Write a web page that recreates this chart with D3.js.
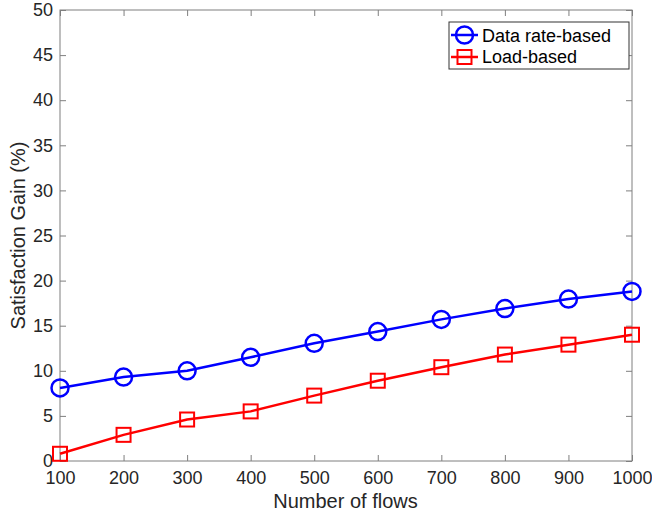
<!DOCTYPE html>
<html><head><meta charset="utf-8">
<script src="https://cdn.jsdelivr.net/npm/d3@7"></script>
<style>body{margin:0;background:#fff}svg{font-family:"Liberation Sans",Arial,sans-serif}</style>
</head><body><svg id="c" width="652" height="514"></svg>
<script>
const flows = [100,200,300,400,500,600,700,800,900,1000];
const dataRate = [8.1,9.3,10.0,11.5,13.05,14.35,15.7,16.9,17.95,18.8];
const loadBased = [0.8,2.9,4.6,5.5,7.25,8.9,10.4,11.8,12.9,14.0];
const xTicks = [100,200,300,400,500,600,700,800,900,1000];
const yTicks = [0,5,10,15,20,25,30,35,40,45,50];

const L=60,R=632,T=10,B=461;
const svg=d3.select("#c");
const x=d3.scaleLinear().domain([100,1000]).range([L,R]);
const y=d3.scaleLinear().domain([0,50]).range([B,T]);
const axCol="#7f7f7f", txtCol="#262626";
const fmt=d3.format("d");

svg.append("rect").attr("x",L).attr("y",T).attr("width",R-L).attr("height",B-T).attr("fill","#fff").attr("stroke",axCol).attr("stroke-width",1);

function styleAxis(g){g.select(".domain").remove();g.selectAll(".tick line").attr("stroke",axCol);g.selectAll("text").attr("fill",txtCol).style("font-size","18px").style("font-family","Liberation Sans, Arial, sans-serif");}
svg.append("g").attr("transform",`translate(0,${B})`).call(d3.axisBottom(x).tickValues(xTicks).tickFormat(fmt).tickSizeInner(-6).tickSizeOuter(0).tickPadding(10)).call(styleAxis);
svg.append("g").attr("transform",`translate(0,${T})`).call(d3.axisTop(x).tickValues(xTicks).tickSizeInner(-6).tickSizeOuter(0).tickFormat("")).call(styleAxis);
svg.append("g").attr("transform",`translate(${L},0)`).call(d3.axisLeft(y).tickValues(yTicks).tickFormat(fmt).tickSizeInner(-6).tickSizeOuter(0).tickPadding(7)).call(styleAxis);
svg.append("g").attr("transform",`translate(${R},0)`).call(d3.axisRight(y).tickValues(yTicks).tickSizeInner(-6).tickSizeOuter(0).tickFormat("")).call(styleAxis);

svg.append("text").attr("x",(L+R)/2-0.5).attr("y",508).attr("text-anchor","middle").attr("fill",txtCol).style("font-size","20px").text("Number of flows");
svg.append("text").attr("transform",`translate(25,${(T+B)/2}) rotate(-90)`).attr("text-anchor","middle").attr("fill",txtCol).style("font-size","20px").text("Satisfaction Gain (%)");

const line=d3.line().x((d,i)=>x(flows[i])).y(d=>y(d));
svg.append("path").datum(dataRate).attr("d",line).attr("fill","none").attr("stroke","#0000ff").attr("stroke-width",2.5);
svg.append("path").datum(loadBased).attr("d",line).attr("fill","none").attr("stroke","#ff0000").attr("stroke-width",2.5);
svg.selectAll(".c").data(dataRate).enter().append("circle").attr("cx",(d,i)=>x(flows[i])).attr("cy",d=>y(d)).attr("r",8.5).attr("fill","none").attr("stroke","#0000ff").attr("stroke-width",2.5);
svg.selectAll(".s").data(loadBased).enter().append("rect").attr("x",(d,i)=>x(flows[i])-7).attr("y",d=>y(d)-7).attr("width",14).attr("height",14).attr("fill","none").attr("stroke","#ff0000").attr("stroke-width",2);

// legend
const lg=svg.append("g");
lg.append("rect").attr("x",449).attr("y",22).attr("width",180).attr("height",47).attr("fill","#fff").attr("stroke","#333").attr("stroke-width",1);
lg.append("line").attr("x1",451).attr("x2",478).attr("y1",35).attr("y2",35).attr("stroke","#0000ff").attr("stroke-width",2.5);
lg.append("circle").attr("cx",464.5).attr("cy",35).attr("r",8.5).attr("fill","none").attr("stroke","#0000ff").attr("stroke-width",2.5);
lg.append("text").attr("x",482).attr("y",42).attr("fill","#000").style("font-size","18px").text("Data rate-based");
lg.append("line").attr("x1",451).attr("x2",478).attr("y1",57).attr("y2",57).attr("stroke","#ff0000").attr("stroke-width",2.5);
lg.append("rect").attr("x",457.5).attr("y",50).attr("width",14).attr("height",14).attr("fill","none").attr("stroke","#ff0000").attr("stroke-width",2);
lg.append("text").attr("x",482).attr("y",63).attr("fill","#000").style("font-size","18px").text("Load-based");
</script></body></html>
